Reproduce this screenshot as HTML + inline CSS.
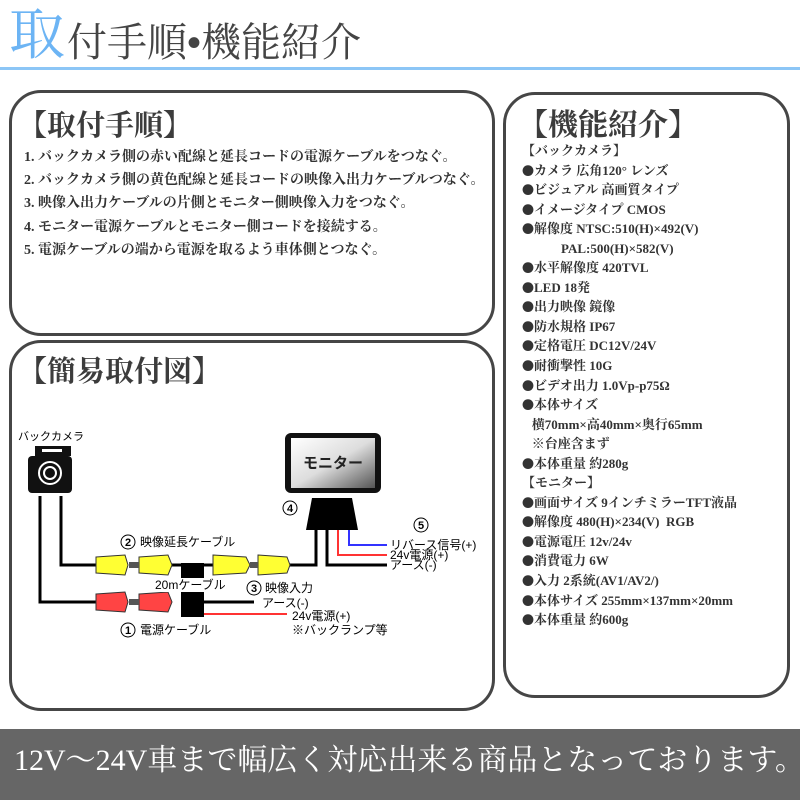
<!DOCTYPE html>
<html><head><meta charset="utf-8"><style>
*{margin:0;padding:0;box-sizing:border-box}
body{width:800px;height:800px;background:#fff;position:relative;overflow:hidden;font-family:"Liberation Serif","Noto Serif CJK SC",serif}
.a{position:absolute;white-space:nowrap}
.box{position:absolute;border:3px solid #464646;border-radius:32px;background:#fff}
.h{font-weight:bold;color:#3c3c3c}
.li{font-size:14px;font-weight:bold;color:#333;line-height:23.2px}
.ri{font-size:13px;font-weight:bold;color:#333;line-height:19.55px}
.b{font-family:"Noto Sans CJK JP",sans-serif;font-size:12px}
</style></head><body>
<div class="a" style="left:9px;top:3px;font-size:56px;line-height:66px;color:#6cb4f4">取</div>
<div class="a" style="left:67px;top:18px;font-size:40px;line-height:50px;color:#444">付手順<span style="font-family:'Liberation Sans',sans-serif">•</span>機能紹介</div>
<div class="a" style="left:0;top:67px;width:800px;height:3px;background:#8cc6f6"></div>

<div class="box" style="left:9px;top:90px;width:486px;height:246px"></div>
<div class="a h" style="left:18px;top:108px;font-size:29px;line-height:36px">【取付手順】</div>
<div class="a li" style="left:24px;top:146px">1. バックカメラ側の赤い配線と延長コードの電源ケーブルをつなぐ。<br>2. バックカメラ側の黄色配線と延長コードの映像入出力ケーブルつなぐ。<br>3. 映像入出力ケーブルの片側とモニター側映像入力をつなぐ。<br>4. モニター電源ケーブルとモニター側コードを接続する。<br>5. 電源ケーブルの端から電源を取るよう車体側とつなぐ。</div>

<div class="box" style="left:9px;top:340px;width:486px;height:371px"></div>
<div class="a h" style="left:18px;top:354px;font-size:29px;line-height:36px">【簡易取付図】</div>

<svg class="a" style="left:0;top:0" width="800" height="800" font-family="Liberation Sans,Noto Sans CJK JP,sans-serif">
<text x="18" y="440" font-size="11">バックカメラ</text>
<rect x="35" y="446" width="36" height="10" fill="#111"/>
<rect x="42" y="449" width="20" height="3" fill="#fff"/>
<rect x="28" y="456" width="44" height="37" rx="4" fill="#111"/>
<circle cx="50" cy="473" r="11" fill="none" stroke="#fff" stroke-width="2"/>
<circle cx="50" cy="473" r="6" fill="none" stroke="#fff" stroke-width="2"/>
<g fill="none" stroke="#000" stroke-width="3">
<polyline points="40,496 40,602 96,602"/>
<polyline points="61,496 61,565 96,565"/>
<line x1="172" y1="565" x2="213" y2="565"/>
<polyline points="290,565 316,565 316,530"/>
<line x1="204" y1="602" x2="254" y2="602"/>
<polyline points="327,530 327,565 387,565"/>
</g>
<polyline points="338,530 338,555 387,555" fill="none" stroke="#f33" stroke-width="2"/>
<polyline points="349,530 349,545 387,545" fill="none" stroke="#33f" stroke-width="2"/>
<line x1="204" y1="614" x2="287" y2="614" stroke="#f33" stroke-width="2"/>
<rect x="181" y="563" width="23" height="54" fill="#000"/>
<g stroke="#333" stroke-width="1">
<path d="M96,557 L125,555 L128,565 L125,575 L96,573 Z" fill="#ff3"/>
<path d="M139,557 L168,555 L172,565 L168,575 L139,573 Z" fill="#ff3"/>
<path d="M213,555 L246,557 L250,565 L246,573 L213,575 Z" fill="#ff3"/>
<path d="M258,555 L287,557 L290,565 L287,573 L258,575 Z" fill="#ff3"/>
<path d="M96,594 L125,592 L128,602 L125,612 L96,610 Z" fill="#f44"/>
<path d="M139,594 L168,592 L172,602 L168,612 L139,610 Z" fill="#f44"/>
</g>
<rect x="129" y="562" width="10" height="6" fill="#555"/>
<rect x="250" y="562" width="8" height="6" fill="#555"/>
<rect x="129" y="599" width="10" height="6" fill="#555"/>
<rect x="285" y="433" width="96" height="60" rx="6" fill="#111"/>
<defs><linearGradient id="g" x1="0" y1="0" x2="1" y2="1"><stop offset="0" stop-color="#fff"/><stop offset="0.5" stop-color="#ddd"/><stop offset="1" stop-color="#555"/></linearGradient></defs>
<rect x="291" y="438" width="84" height="50" fill="url(#g)"/>
<text x="333" y="468" font-size="15" font-weight="bold" text-anchor="middle" fill="#222">モニター</text>
<path d="M312,498 L352,498 L358,530 L306,530 Z" fill="#000"/>
<rect x="155" y="578" width="78" height="14" fill="#fff"/>
<g font-size="12" fill="#000">
<circle cx="128" cy="542" r="7" fill="none" stroke="#000"/><text x="128" y="546" text-anchor="middle" font-weight="bold" font-size="11">2</text>
<text x="140" y="546">映像延長ケーブル</text>
<text x="155" y="589">20mケーブル</text>
<circle cx="254" cy="588" r="7" fill="none" stroke="#000"/><text x="254" y="592" text-anchor="middle" font-weight="bold" font-size="11">3</text>
<text x="265" y="592">映像入力</text>
<text x="262" y="607">アース(-)</text>
<text x="292" y="620">24v電源(+)</text>
<text x="292" y="634">※バックランプ等</text>
<circle cx="128" cy="630" r="7" fill="none" stroke="#000"/><text x="128" y="634" text-anchor="middle" font-weight="bold" font-size="11">1</text>
<text x="140" y="634">電源ケーブル</text>
<circle cx="290" cy="508" r="7" fill="none" stroke="#000"/><text x="290" y="512" text-anchor="middle" font-weight="bold" font-size="11">4</text>
<circle cx="421" cy="525" r="7" fill="none" stroke="#000"/><text x="421" y="529" text-anchor="middle" font-weight="bold" font-size="11">5</text>
<text x="390" y="549">リバース信号(+)</text>
<text x="390" y="559">24v電源(+)</text>
<text x="390" y="569">アース(-)</text>
</g>
</svg>

<div class="box" style="left:503px;top:92px;width:287px;height:606px"></div>
<div class="a h" style="left:518px;top:108px;font-size:30px;line-height:36px">【機能紹介】</div>
<div class="a ri" style="left:522px;top:141px">【バックカメラ】<br><span class="b">●</span>カメラ 広角120° レンズ<br><span class="b">●</span>ビジュアル 高画質タイプ<br><span class="b">●</span>イメージタイプ CMOS<br><span class="b">●</span>解像度 NTSC:510(H)×492(V)<br>&nbsp;&nbsp;&nbsp;&nbsp;&nbsp;&nbsp;&nbsp;&nbsp;&nbsp;&nbsp;&nbsp;&nbsp;PAL:500(H)×582(V)<br><span class="b">●</span>水平解像度 420TVL<br><span class="b">●</span>LED 18発<br><span class="b">●</span>出力映像 鏡像<br><span class="b">●</span>防水規格 IP67<br><span class="b">●</span>定格電圧 DC12V/24V<br><span class="b">●</span>耐衝撃性 10G<br><span class="b">●</span>ビデオ出力 1.0Vp-p75Ω<br><span class="b">●</span>本体サイズ<br>&nbsp;&nbsp;&nbsp;横70mm×高40mm×奥行65mm<br>&nbsp;&nbsp;&nbsp;※台座含まず<br><span class="b">●</span>本体重量 約280g<br>【モニター】<br><span class="b">●</span>画面サイズ 9インチミラーTFT液晶<br><span class="b">●</span>解像度 480(H)×234(V)&nbsp;&nbsp;RGB<br><span class="b">●</span>電源電圧 12v/24v<br><span class="b">●</span>消費電力 6W<br><span class="b">●</span>入力 2系統(AV1/AV2/)<br><span class="b">●</span>本体サイズ 255mm×137mm×20mm<br><span class="b">●</span>本体重量 約600g</div>

<div class="a" style="left:0;top:729px;width:800px;height:71px;background:#666"></div>
<div class="a" style="left:14px;top:741px;font-size:30px;line-height:40px;color:#fff">12V～24V車まで幅広く対応出来る商品となっております。</div>
</body></html>
